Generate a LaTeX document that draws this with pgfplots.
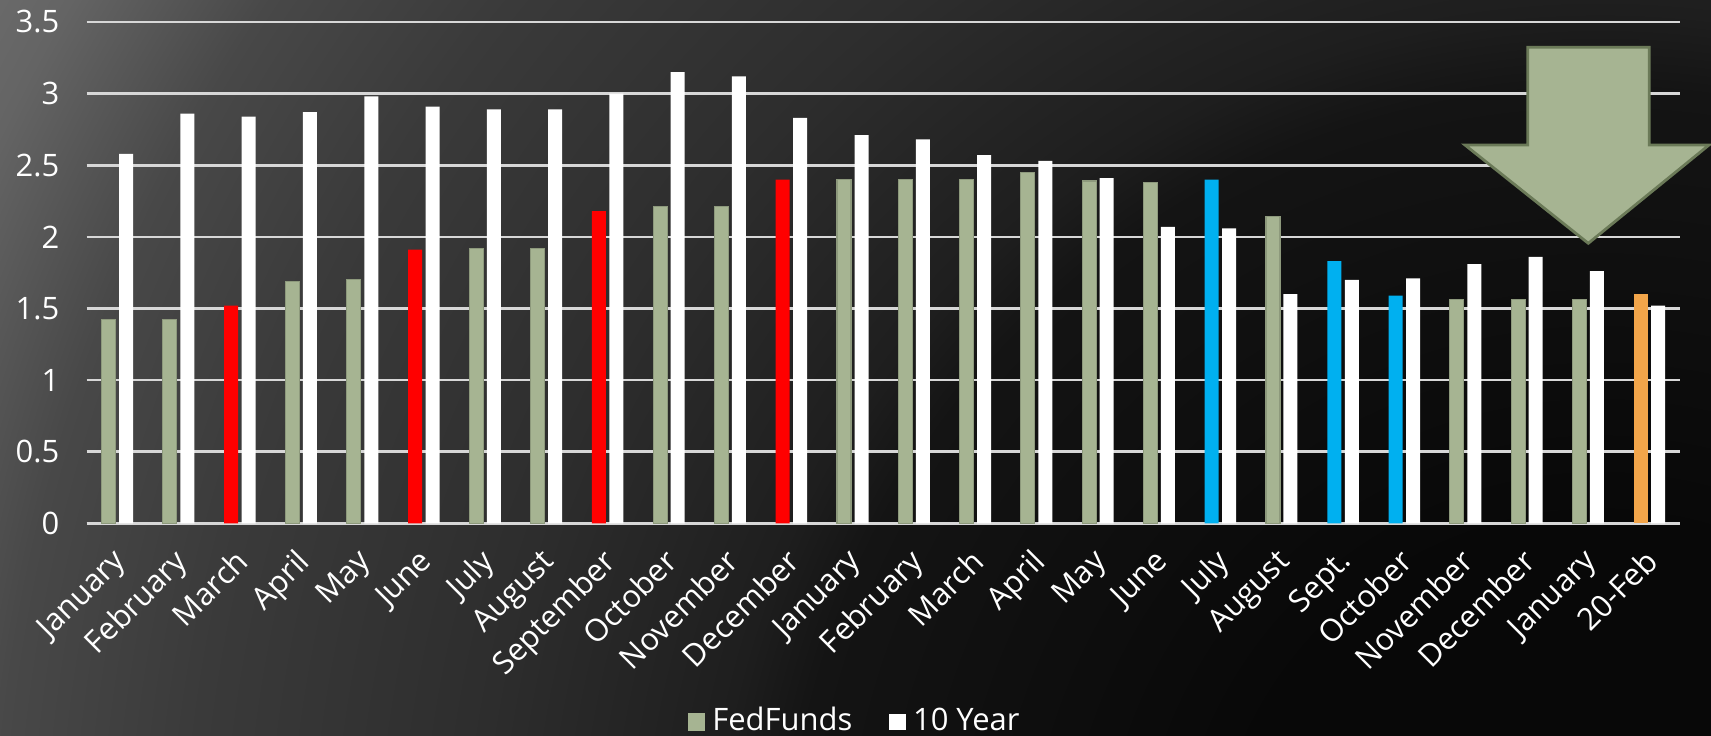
\documentclass[border=0pt]{standalone}
\usepackage{pgfplots}
\pgfplotsset{compat=1.18}
\usepackage{fontspec}
\setmainfont{Open Sans}
\definecolor{ffgreen}{RGB}{166,180,146}
\definecolor{ffred}{RGB}{255,0,0}
\definecolor{ffblue}{RGB}{0,176,240}
\definecolor{fforange}{RGB}{242,165,74}
\definecolor{gridc}{RGB}{215,215,215}
\definecolor{arrowborder}{RGB}{107,122,88}
\definecolor{bga}{RGB}{8,8,8}
\definecolor{bgb}{RGB}{20,20,20}
\definecolor{bgc}{RGB}{30,30,30}
\definecolor{bgd}{RGB}{45,45,45}
\definecolor{bgh}{RGB}{58,58,58}
\definecolor{bge}{RGB}{72,72,72}
\definecolor{bgf}{RGB}{100,100,100}
\definecolor{bgg}{RGB}{108,108,108}
\pgfdeclareradialshading{bgshade}{\pgfpoint{0bp}{0bp}}{color(0bp)=(bga); color(106bp)=(bga); color(230bp)=(bgb); color(252bp)=(bgc); color(319bp)=(bgd); color(400bp)=(bgh); color(455bp)=(bge); color(503bp)=(bgf); color(530bp)=(bgg)}

% categories at x = 0.5, 1.5, ..., 25.5
\pgfplotstableread{
x y
0.5 1.42
1.5 1.42
3.5 1.69
4.5 1.70
6.5 1.92
7.5 1.92
9.5 2.21
10.5 2.21
12.5 2.40
13.5 2.40
14.5 2.40
15.5 2.45
16.5 2.39
17.5 2.38
19.5 2.14
22.5 1.56
23.5 1.56
24.5 1.56
}\fedgreen
\pgfplotstableread{
x y
2.5 1.52
5.5 1.91
8.5 2.18
11.5 2.40
}\fedred
\pgfplotstableread{
x y
18.5 2.40
20.5 1.83
21.5 1.59
}\fedblue
\pgfplotstableread{
x y
25.5 1.60
}\fedorange
\pgfplotstableread{
x y
0.5 2.58
1.5 2.86
2.5 2.84
3.5 2.87
4.5 2.98
5.5 2.91
6.5 2.89
7.5 2.89
8.5 3.00
9.5 3.15
10.5 3.12
11.5 2.83
12.5 2.71
13.5 2.68
14.5 2.57
15.5 2.53
16.5 2.41
17.5 2.07
18.5 2.06
19.5 1.60
20.5 1.70
21.5 1.71
22.5 1.81
23.5 1.86
24.5 1.76
25.5 1.52
}\tenyear

\begin{document}
\begin{tikzpicture}
\useasboundingbox (0,0) rectangle (17.11,7.36);
\begin{scope}
\clip (0,0) rectangle (17.11,7.36);
\node[inner sep=0pt, outer sep=0pt] at (16.0,-1.64) {\pgfuseshading{bgshade}};
\end{scope}
\begin{axis}[
  at={(0.867cm,2.127cm)}, anchor=south west,
  scale only axis, width=15.933cm, height=5.013cm,
  xmin=0, xmax=26, ymin=0, ymax=3.5,
  axis line style={draw=none},
  ymajorgrids, grid style={gridc, line width=0.75pt},
  extra y ticks={0}, extra y tick labels={},
  extra y tick style={grid style={gridc, line width=1pt}},
  ytick={0,0.5,1,1.5,2,2.5,3,3.5},
  yticklabels={0,0.5,1,1.5,2,2.5,3,3.5},
  xtick={0.5,1.5,...,25.5},
  xticklabels={January,February,March,April,May,June,July,August,September,October,November,December,January,February,March,April,May,June,July,August,Sept.,October,November,December,January,20-Feb},
  major tick length=0pt,
  tick label style={text=white, font=\fontsize{8.8}{10}\selectfont},
  yticklabel style={anchor=east, xshift=-0.15cm},
  xticklabel style={rotate=45, anchor=north east, xshift=-0.09cm, yshift=0cm},
  legend style={at={(0.4835,-0.396)}, anchor=center, draw=none, fill=none,
    text=white, font=\fontsize{8.8}{10}\selectfont, legend columns=2,
    /tikz/every even column/.append style={column sep=0.3cm},
    inner sep=0pt},
  clip=false,
]
\addplot[ybar, bar width=0.14cm, bar shift=-0.087cm, fill=ffgreen, draw=ffgreen!85!black, line width=0.3pt,
  legend image code/.code={\fill[ffgreen] (0cm,-0.083cm) rectangle (0.167cm,0.083cm);}] table[x=x,y=y] {\fedgreen};
\addlegendentry{FedFunds}
\addplot[ybar, bar width=0.14cm, bar shift=0.088cm, fill=white, draw=none,
  legend image code/.code={\fill[white] (0cm,-0.083cm) rectangle (0.167cm,0.083cm);}] table[x=x,y=y] {\tenyear};
\addlegendentry{10 Year}
\addplot[ybar, bar width=0.14cm, bar shift=-0.087cm, fill=ffred, draw=none, forget plot] table[x=x,y=y] {\fedred};
\addplot[ybar, bar width=0.14cm, bar shift=-0.087cm, fill=ffblue, draw=none, forget plot] table[x=x,y=y] {\fedblue};
\addplot[ybar, bar width=0.14cm, bar shift=-0.087cm, fill=fforange, draw=none, forget plot] table[x=x,y=y] {\fedorange};
\end{axis}
% decorative down arrow
\filldraw[fill=ffgreen, draw=arrowborder, line width=0.8pt, line join=miter]
  (15.277,6.887) -- (16.493,6.887) -- (16.493,5.91) -- (17.09,5.91)
  -- (15.883,4.927) -- (14.65,5.91) -- (15.277,5.91) -- cycle;
\end{tikzpicture}
\end{document}
